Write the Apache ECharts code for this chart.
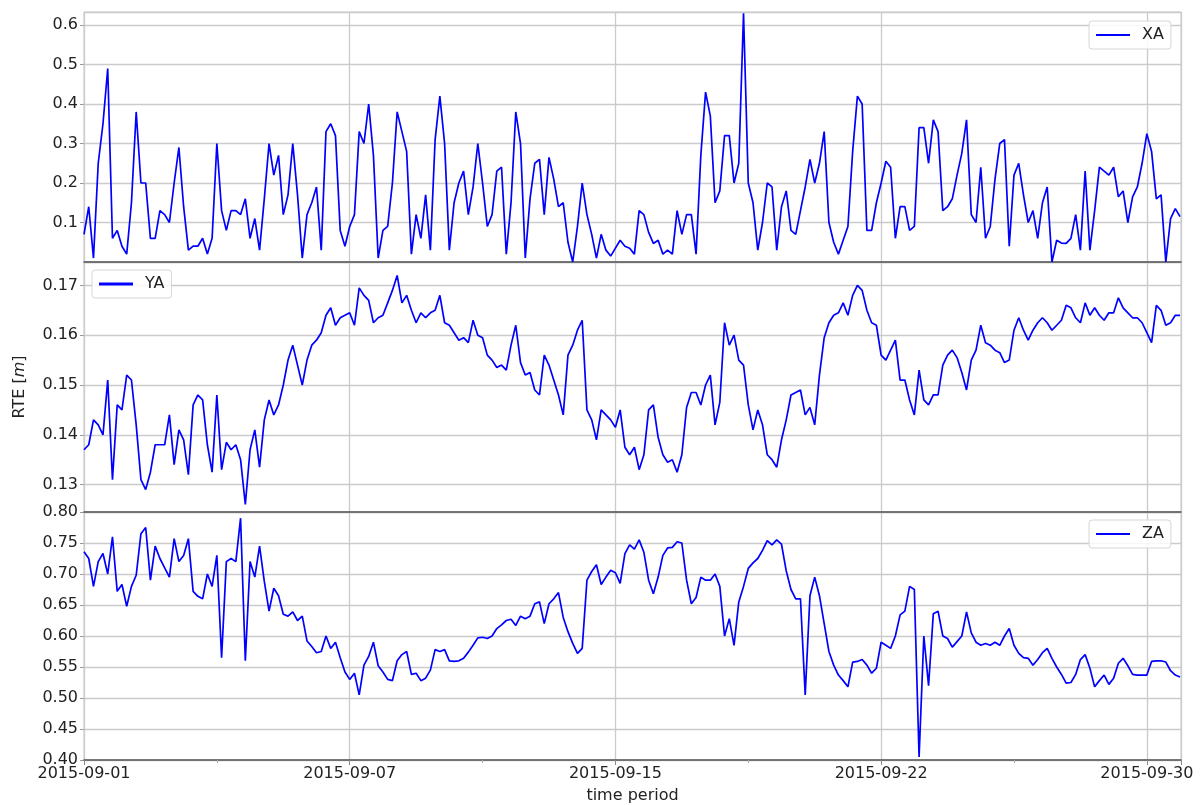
<!DOCTYPE html>
<html>
<head>
<meta charset="utf-8">
<title>RTE</title>
<script src="https://cdn.jsdelivr.net/npm/echarts@6.0.0/dist/echarts.min.js"></script>
<style>
  html, body { margin: 0; padding: 0; background: #fff; }
  #chart { width: 1204px; height: 805px; }
</style>
</head>
<body>
<div id="chart"></div>
<script>
// samples every 3 hours from 2015-09-01 00:00, one row = one day
const sampleHours = 3;
const tickDays = [0, 7, 14, 21, 28];
const tickLabels = ['2015-09-01', '2015-09-07', '2015-09-15', '2015-09-22', '2015-09-30'];
const seriesNames = ['XA', 'YA', 'ZA'];

const xa = [
  0.07, 0.14, 0.01, 0.25, 0.35, 0.49, 0.06, 0.08,
  0.04, 0.02, 0.15, 0.38, 0.2, 0.2, 0.06, 0.06,
  0.13, 0.12, 0.1, 0.2, 0.29, 0.14, 0.03, 0.04,
  0.04, 0.06, 0.02, 0.06, 0.3, 0.13, 0.08, 0.13,
  0.13, 0.12, 0.16, 0.06, 0.11, 0.03, 0.16, 0.3,
  0.22, 0.27, 0.12, 0.17, 0.3, 0.17, 0.01, 0.12,
  0.15, 0.19, 0.03, 0.33, 0.35, 0.32, 0.08, 0.04,
  0.09, 0.12, 0.33, 0.3, 0.4, 0.27, 0.01, 0.08,
  0.09, 0.2, 0.38, 0.33, 0.28, 0.02, 0.12, 0.06,
  0.17, 0.03, 0.31, 0.42, 0.3, 0.03, 0.15, 0.2,
  0.23, 0.12, 0.19, 0.3, 0.2, 0.09, 0.12, 0.23,
  0.24, 0.02, 0.15, 0.38, 0.3, 0.01, 0.16, 0.25,
  0.26, 0.12, 0.265, 0.21, 0.14, 0.15, 0.05, 0.0,
  0.09, 0.2, 0.12, 0.07, 0.01, 0.07, 0.03, 0.015,
  0.035, 0.055, 0.04, 0.035, 0.02, 0.13, 0.12, 0.075,
  0.047, 0.055, 0.02, 0.03, 0.02, 0.13, 0.07, 0.12,
  0.12, 0.02, 0.27, 0.43, 0.37, 0.15, 0.18, 0.32,
  0.32, 0.2, 0.25, 0.63, 0.2, 0.15, 0.03, 0.1,
  0.2, 0.19, 0.03, 0.14, 0.18, 0.08, 0.07, 0.13,
  0.19, 0.26, 0.2, 0.25, 0.33, 0.1, 0.05, 0.02,
  0.055, 0.09, 0.28, 0.42, 0.4, 0.08, 0.08, 0.15,
  0.2, 0.255, 0.24, 0.06, 0.14, 0.14, 0.08, 0.09,
  0.34, 0.34, 0.25, 0.36, 0.33, 0.13, 0.14, 0.16,
  0.22, 0.275, 0.36, 0.12, 0.1, 0.24, 0.06, 0.09,
  0.21, 0.3, 0.31, 0.04, 0.22, 0.25, 0.17, 0.1,
  0.13, 0.06, 0.15, 0.19, 0.0, 0.055, 0.048, 0.047,
  0.06, 0.12, 0.03, 0.23, 0.03, 0.13, 0.24, 0.23,
  0.22, 0.24, 0.165, 0.18, 0.1, 0.165, 0.19, 0.25,
  0.325, 0.28, 0.16, 0.17, 0.0, 0.11, 0.135, 0.115
];

const ya = [
  0.137, 0.138, 0.143, 0.142, 0.140, 0.151, 0.131, 0.146,
  0.145, 0.152, 0.151, 0.142, 0.131, 0.129, 0.1325, 0.138,
  0.138, 0.138, 0.144, 0.134, 0.141, 0.139, 0.132, 0.146,
  0.148, 0.147, 0.138, 0.1325, 0.148, 0.133, 0.1385, 0.137,
  0.138, 0.135, 0.126, 0.137, 0.141, 0.1335, 0.143, 0.147,
  0.144, 0.146, 0.150, 0.155, 0.158, 0.154, 0.150, 0.155,
  0.158, 0.159, 0.1605, 0.164, 0.1655, 0.162, 0.1635, 0.164,
  0.1645, 0.162, 0.1695, 0.168, 0.167, 0.1625, 0.1635, 0.164,
  0.1665, 0.169, 0.172, 0.1665, 0.168, 0.165, 0.1625, 0.1645,
  0.1635, 0.1645, 0.165, 0.168, 0.1625, 0.162, 0.1605, 0.159,
  0.1595, 0.1585, 0.163, 0.160, 0.1595, 0.156, 0.155, 0.1535,
  0.154, 0.153, 0.158, 0.162, 0.1545, 0.152, 0.1525, 0.149,
  0.148, 0.156, 0.154, 0.151, 0.148, 0.144, 0.156, 0.158,
  0.161, 0.163, 0.145, 0.143, 0.139, 0.145, 0.144, 0.143,
  0.1415, 0.145, 0.1375, 0.136, 0.1375, 0.133, 0.136, 0.145,
  0.146, 0.1395, 0.136, 0.1345, 0.135, 0.1325, 0.136, 0.1455,
  0.1485, 0.1485, 0.146, 0.150, 0.152, 0.142, 0.1465, 0.1625,
  0.158, 0.16, 0.155, 0.154, 0.146, 0.141, 0.145, 0.142,
  0.136, 0.135, 0.1335, 0.139, 0.143, 0.148, 0.1485, 0.149,
  0.144, 0.1455, 0.142, 0.152, 0.1595, 0.1625, 0.164, 0.1645,
  0.1665, 0.164, 0.168, 0.17, 0.169, 0.165, 0.1625, 0.162,
  0.156, 0.155, 0.157, 0.159, 0.151, 0.151, 0.147, 0.144,
  0.153, 0.147, 0.146, 0.148, 0.148, 0.154, 0.156, 0.157,
  0.1555, 0.1525, 0.149, 0.155, 0.157, 0.162, 0.1585, 0.158,
  0.157, 0.1565, 0.1545, 0.155, 0.161, 0.1635, 0.161, 0.159,
  0.161, 0.1625, 0.1635, 0.1625, 0.161, 0.162, 0.163, 0.166,
  0.1655, 0.1635, 0.1625, 0.1665, 0.164, 0.1655, 0.164, 0.163,
  0.1645, 0.1645, 0.1675, 0.1655, 0.1645, 0.1635, 0.1635, 0.1625,
  0.1605, 0.1585, 0.166, 0.165, 0.162, 0.1625, 0.164, 0.164
];

const za = [
  0.736, 0.725, 0.68, 0.72, 0.733, 0.70, 0.76, 0.672,
  0.683, 0.648, 0.68, 0.698, 0.765, 0.775, 0.69, 0.745,
  0.725, 0.71, 0.695, 0.757, 0.72, 0.73, 0.757, 0.672,
  0.664, 0.66, 0.70, 0.68, 0.73, 0.565, 0.72, 0.725,
  0.72, 0.79, 0.56, 0.72, 0.695, 0.745, 0.688, 0.64,
  0.677, 0.665, 0.635, 0.632, 0.639, 0.625, 0.632, 0.592,
  0.583, 0.573, 0.575, 0.60, 0.58, 0.59, 0.565, 0.542,
  0.53, 0.54, 0.505, 0.553, 0.567, 0.59, 0.552, 0.542,
  0.53, 0.528, 0.56, 0.57, 0.575, 0.538, 0.54, 0.528,
  0.532, 0.545, 0.578, 0.575, 0.578, 0.56, 0.559, 0.56,
  0.564, 0.574, 0.585, 0.597, 0.598, 0.596, 0.6, 0.612,
  0.618, 0.625, 0.627, 0.617, 0.632, 0.628, 0.632, 0.652,
  0.655, 0.62, 0.652, 0.66, 0.67, 0.63, 0.607, 0.588,
  0.572, 0.58, 0.69, 0.704, 0.715, 0.683, 0.695, 0.706,
  0.702, 0.685, 0.733, 0.747, 0.74, 0.755, 0.735, 0.69,
  0.668, 0.695, 0.73, 0.742, 0.743, 0.752, 0.75, 0.69,
  0.652, 0.662, 0.695, 0.69, 0.69, 0.7, 0.68, 0.6,
  0.628, 0.585, 0.655, 0.68, 0.709, 0.718, 0.725, 0.738,
  0.754, 0.747, 0.755, 0.748, 0.705, 0.675, 0.66, 0.66,
  0.505, 0.665, 0.695, 0.665, 0.62, 0.575, 0.553, 0.537,
  0.528, 0.518, 0.558, 0.559, 0.562, 0.553, 0.54, 0.548,
  0.59, 0.585, 0.58, 0.6, 0.634, 0.64, 0.68, 0.675,
  0.405, 0.6, 0.52, 0.636, 0.64, 0.6, 0.596, 0.582,
  0.591, 0.6, 0.639, 0.605, 0.59, 0.585, 0.588, 0.585,
  0.59, 0.585, 0.6, 0.612, 0.585, 0.572, 0.565, 0.564,
  0.553, 0.562, 0.573, 0.58, 0.564, 0.55, 0.538, 0.524,
  0.525, 0.538, 0.562, 0.57, 0.548, 0.518, 0.528, 0.537,
  0.522, 0.532, 0.556, 0.564, 0.552, 0.538, 0.537, 0.537,
  0.537, 0.559, 0.56, 0.56, 0.558, 0.544, 0.537, 0.534
];

const font = 'DejaVu Sans';
const textColor = '#222';
const gridColor = '#cbcbcb';
const lastDay = 28.9;

function toPoints(values) {
  return values.map((v, i) => [i * sampleHours / 24, v]);
}

function xAxisFor(gridIndex, showLabels) {
  return {
    type: 'value',
    gridIndex: gridIndex,
    min: 0,
    max: lastDay,
    interval: 7,
    z: 3,
    axisLine: { show: true, lineStyle: { color: '#555', width: 1.5 } },
    axisTick: { show: showLabels, length: 5, lineStyle: { color: '#888' } },
    minorTick: { show: showLabels, splitNumber: 2, length: 3, lineStyle: { color: '#aaa' } },
    axisLabel: {
      show: showLabels,
      showMaxLabel: false,
      fontSize: 16,
      fontFamily: font,
      color: textColor,
      margin: 6,
      formatter: (v) => {
        const k = tickDays.indexOf(Math.round(v * 1000) / 1000);
        return k >= 0 ? tickLabels[k] : '';
      }
    },
    splitLine: { show: true, lineStyle: { color: gridColor, width: 1.3 } },
    name: showLabels ? 'time period' : '',
    nameLocation: 'middle',
    nameGap: 28,
    nameTextStyle: { fontSize: 16, fontFamily: font, color: textColor }
  };
}

function yAxisFor(gridIndex, cfg) {
  return Object.assign({
    type: 'value',
    gridIndex: gridIndex,
    axisLine: { show: false },
    axisTick: { show: true, length: 4, lineStyle: { color: '#999' } },
    splitLine: { show: true, lineStyle: { color: gridColor, width: 1.3 } },
    axisLabel: {
      fontSize: 16,
      fontFamily: font,
      color: textColor,
      margin: 6,
      showMinLabel: cfg.showEnds,
      showMaxLabel: cfg.showEnds,
      formatter: (v) => v.toFixed(cfg.digits)
    }
  }, cfg.axis);
}

function legendFor(name, left, top, lineWidth) {
  return {
    data: [name],
    left: left,
    top: top,
    icon: 'rect',
    itemWidth: 34,
    itemHeight: lineWidth,
    padding: [6, 7],
    backgroundColor: 'rgba(255,255,255,0.85)',
    borderColor: '#d6d6d6',
    borderWidth: 1,
    borderRadius: 3,
    selectedMode: false,
    textStyle: { fontSize: 16, fontFamily: font, color: textColor, padding: [0, 0, 0, 7] }
  };
}

const panels = [xa, ya, za];

const option = {
  backgroundColor: '#fff',
  animation: false,
  grid: [12, 262, 512].map((top) => ({
    left: 84, right: 23, top: top, height: 250,
    show: true, borderColor: '#c8c8c8', borderWidth: 1
  })),
  xAxis: [xAxisFor(0, false), xAxisFor(1, false), xAxisFor(2, true)],
  yAxis: [
    yAxisFor(0, { digits: 1, showEnds: false,
      axis: { min: 0, max: 0.633, splitNumber: 6, minInterval: 0.1, maxInterval: 0.1 } }),
    yAxisFor(1, { digits: 2, showEnds: false,
      axis: {
        min: 0.1245, max: 0.1747, splitNumber: 5, minInterval: 0.01, maxInterval: 0.01,
        name: 'RTE [{i|m}]',
        nameLocation: 'middle',
        nameGap: 56,
        nameTextStyle: {
          fontSize: 16, fontFamily: font, color: textColor,
          rich: { i: { fontStyle: 'italic', fontSize: 16, fontFamily: font, color: textColor } }
        }
      } }),
    yAxisFor(2, { digits: 2, showEnds: true,
      axis: { min: 0.4, max: 0.8, interval: 0.05 } })
  ],
  legend: [
    legendFor('XA', 1089, 21, 2),
    legendFor('YA', 92, 270, 3),
    legendFor('ZA', 1089, 520, 2)
  ],
  series: panels.map((values, k) => ({
    name: seriesNames[k],
    type: 'line',
    xAxisIndex: k,
    yAxisIndex: k,
    data: toPoints(values),
    showSymbol: false,
    symbol: 'none',
    color: '#0000ff',
    lineStyle: { color: '#0000ff', width: 1.7 }
  }))
};

const chart = echarts.init(document.getElementById('chart'), null, { renderer: 'canvas' });
chart.setOption(option);
</script>
</body>
</html>
